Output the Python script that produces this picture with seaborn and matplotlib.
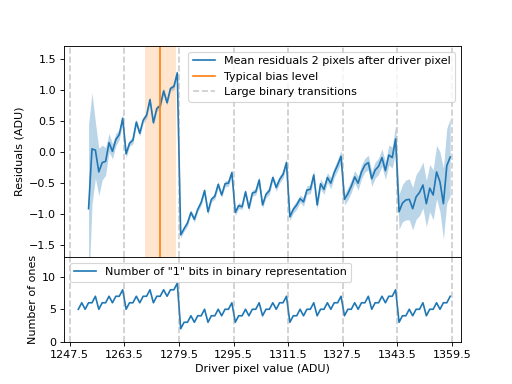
import numpy as np
import pandas as pd
import seaborn as sns
import matplotlib
matplotlib.use("Agg")
import matplotlib.pyplot as plt

# Residuals 2 pixels after driver pixel, driver values 1253..1359
res_driver = np.arange(1253, 1360)
res_mean = [
    -0.91, 0.05, 0.03, -0.32, -0.17, -0.15, 0.15, 0.01, 0.20, 0.28, 0.54,
    -0.03, 0.14, 0.19, 0.48, 0.30, 0.51, 0.59, 0.84, 0.47, 0.70, 0.74, 0.98, 0.79, 1.02, 1.05, 1.27,
    -1.33, -1.23, -1.14, -0.97, -1.08, -0.92, -0.81, -0.62, -0.96, -0.76, -0.71, -0.52, -0.69, -0.51, -0.50, -0.33,
    -0.97, -0.86, -0.88, -0.64, -0.90, -0.66, -0.64, -0.45, -0.85, -0.68, -0.62, -0.41, -0.57, -0.44, -0.36, -0.17,
    -1.04, -0.92, -0.85, -0.75, -0.80, -0.61, -0.60, -0.37, -0.85, -0.51, -0.60, -0.41, -0.50, -0.33, -0.21, -0.07,
    -0.76, -0.67, -0.55, -0.40, -0.50, -0.32, -0.21, -0.17, -0.43, -0.29, -0.23, -0.09, -0.30, -0.05, -0.09, 0.21,
    -0.96, -0.82, -0.77, -0.76, -0.91, -0.72, -0.65, -0.53, -0.83, -0.58, -0.69, -0.32, -0.48, -0.83, -0.22, -0.08,
]
res_err = [
    1.35, 0.90, 0.45, 0.38, 0.28, 0.22, 0.15, 0.12, 0.10, 0.08, 0.07,
    0.06, 0.05, 0.06, 0.05, 0.05, 0.05, 0.05, 0.05, 0.04, 0.05, 0.04, 0.05, 0.04, 0.04, 0.05, 0.05,
    0.05, 0.04, 0.05, 0.04, 0.05, 0.04, 0.05, 0.05, 0.05, 0.04, 0.05, 0.05, 0.04, 0.05, 0.05, 0.05,
    0.05, 0.05, 0.04, 0.05, 0.05, 0.05, 0.05, 0.06, 0.05, 0.05, 0.06, 0.05, 0.06, 0.06, 0.06, 0.06,
    0.06, 0.06, 0.07, 0.06, 0.07, 0.07, 0.07, 0.08, 0.07, 0.08, 0.08, 0.08, 0.09, 0.08, 0.09, 0.10,
    0.09, 0.10, 0.10, 0.10, 0.11, 0.11, 0.11, 0.12, 0.12, 0.13, 0.13, 0.14, 0.14, 0.16, 0.17, 0.22,
    0.28, 0.30, 0.32, 0.33, 0.34, 0.36, 0.37, 0.37, 0.37, 0.38, 0.40, 0.43, 0.48, 0.57, 0.60, 0.62,
]

# Number of "1" bits, driver values 1250..1359
ones_driver = np.arange(1250, 1360)
ones_count = [
    5, 6, 5, 6, 6, 7,
    5, 6, 6, 7, 6, 7, 7, 8,
    5, 6, 6, 7, 6, 7, 7, 8,
    6, 7, 7, 8, 7, 8, 8, 9,
    2, 3, 3, 4, 3, 4, 4, 5,
    3, 4, 4, 5, 4, 5, 5, 6,
    3, 4, 4, 5, 4, 5, 5, 6,
    4, 5, 5, 6, 5, 6, 6, 7,
    3, 4, 4, 5, 4, 5, 5, 6,
    4, 5, 5, 6, 5, 6, 6, 7,
    4, 5, 5, 6, 5, 6, 6, 7,
    5, 6, 6, 7, 6, 7, 7, 8,
    3, 4, 4, 5, 4, 5, 5, 6,
    4, 5, 5, 6, 5, 6, 6, 7,
]

transitions = [1247.5, 1263.5, 1279.5, 1295.5, 1311.5, 1327.5, 1343.5, 1359.5]
bias_level = 1274.0
bias_low, bias_high = 1269.5, 1278.5

fig, (ax1, ax2) = plt.subplots(2, 1, sharex=True, figsize=(6.4, 4.8), dpi=80,
                               gridspec_kw={'height_ratios': [5, 2], 'hspace': 0})

# top panel: residuals
lo = np.array(res_mean) - np.array(res_err)
hi = np.array(res_mean) + np.array(res_err)
ax1.fill_between(res_driver, lo, hi, color='C0', alpha=0.3, lw=0)
sns.lineplot(x=res_driver, y=res_mean, ax=ax1, color='C0',
             label='Mean residuals 2 pixels after driver pixel')
ax1.axvspan(bias_low, bias_high, color='C1', alpha=0.2, lw=0)
ax1.axvline(bias_level, color='C1', label='Typical bias level')
for i, t in enumerate(transitions):
    ax1.axvline(t, color='grey', alpha=0.4, ls='--',
                label='Large binary transitions' if i == 0 else None)
ax1.set_ylim(-1.69, 1.70)
ax1.set_yticks([-1.5, -1.0, -0.5, 0.0, 0.5, 1.0, 1.5])
ax1.set_ylabel('Residuals (ADU)')
ax1.legend(loc='upper right')

# bottom panel: number of ones
sns.lineplot(x=ones_driver, y=ones_count, ax=ax2, color='C0',
             label='Number of "1" bits in binary representation')
for t in transitions:
    ax2.axvline(t, color='grey', alpha=0.4, ls='--')
ax2.set_ylim(0, 13)
ax2.set_yticks([0, 5, 10])
ax2.set_ylabel('Number of ones')
ax2.legend(loc='upper left')

ax2.set_xlim(1245.8, 1362.1)
ax2.set_xticks(transitions)
ax2.set_xticklabels([str(t) for t in transitions])
ax2.set_xlabel('Driver pixel value (ADU)')

plt.savefig('out.png', dpi=80)
